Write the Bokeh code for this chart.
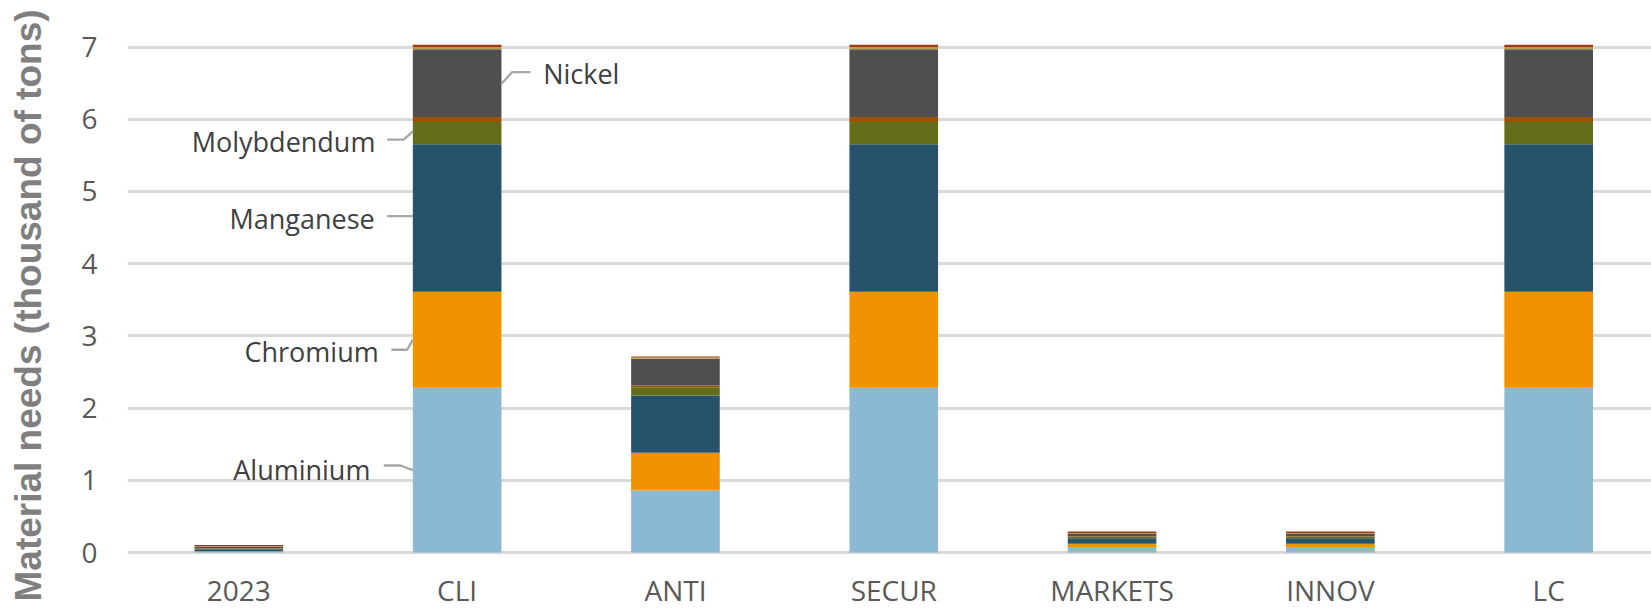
from bokeh.plotting import figure
from bokeh.models import Range1d, FixedTicker, Label, LabelSet, ColumnDataSource
from bokeh.core.properties import value
from bokeh.embed import file_html
from bokeh.resources import INLINE

# ---------------- data ----------------
categories = ["2023", "CLI", "ANTI", "SECUR", "MARKETS", "INNOV", "LC"]
aluminium  = [0.012, 2.28, 0.86, 2.28, 0.075, 0.075, 2.28]
chromium   = [0.004, 1.33, 0.52, 1.33, 0.045, 0.045, 1.33]
manganese  = [0.030, 2.045, 0.795, 2.045, 0.078, 0.078, 2.045]
molybdenum = [0.006, 0.305, 0.115, 0.305, 0.020, 0.020, 0.305]
other_a    = [0.004, 0.07, 0.023, 0.07, 0.008, 0.008, 0.07]
nickel     = [0.025, 0.94, 0.37, 0.94, 0.030, 0.030, 0.94]
other_b    = [0.004, 0.03, 0.016, 0.03, 0.010, 0.010, 0.03]
other_c    = [0.020, 0.03, 0.016, 0.03, 0.024, 0.024, 0.03]
y_ticks = [0, 1, 2, 3, 4, 5, 6, 7]
y_title = "Material needs (thousand of tons)"

series = ["Aluminium", "Chromium", "Manganese", "Molybdendum", "Other A",
          "Nickel", "Other B", "Other C"]
values = [aluminium, chromium, manganese, molybdenum, other_a, nickel, other_b, other_c]
colors = ["#8BB8D3", "#F39200", "#26536A", "#646E1A", "#9C5200",
          "#4F4F4F", "#BC9A45", "#9E3A16"]

# ---------------- layout ----------------
W, H = 1651, 610
MB_L, MB_R, MB_T, MB_B = 127, 0, 0, 0
X0, X1 = -0.510, 6.471
Y0, Y1 = -0.803, 7.644
BAR_W = 0.406
PXX = (W - MB_L - MB_R) / (X1 - X0)
PXY = (H - MB_T - MB_B) / (Y1 - Y0)

xs = list(range(len(categories)))
data = {"x": xs, "label": categories}
for name, vals in zip(series, values):
    data[name] = vals
src = ColumnDataSource(data)

p = figure(width=W, height=H, output_backend="svg", toolbar_location=None,
           x_range=Range1d(X0, X1), y_range=Range1d(Y0, Y1),
           min_border_left=MB_L, min_border_right=MB_R,
           min_border_top=MB_T, min_border_bottom=MB_B)
p.outline_line_color = None
p.background_fill_color = "white"
p.border_fill_color = "white"

p.vbar_stack(series, x="x", width=BAR_W, fill_color=colors, line_color=None, source=src)

# grid
p.xgrid.grid_line_color = None
p.ygrid.grid_line_color = "#D9D9D9"
p.ygrid.grid_line_width = 3
p.yaxis.ticker = FixedTicker(ticks=y_ticks)
p.xaxis.visible = False

p.yaxis.axis_line_color = None
p.yaxis.major_tick_line_color = None
p.yaxis.minor_tick_line_color = None
p.yaxis.major_tick_out = 0
p.yaxis.major_tick_in = 0
p.yaxis.major_label_text_font = "Open Sans"
p.yaxis.major_label_text_font_size = "28px"
p.yaxis.major_label_text_color = "#595959"
p.yaxis.major_label_standoff = 30
p.yaxis.axis_label = y_title
p.yaxis.axis_label_text_font = "Liberation Sans"
p.yaxis.axis_label_text_font_style = "bold"
p.yaxis.axis_label_text_font_size = "37px"
p.yaxis.axis_label_text_color = "#7F7F7F"
p.yaxis.axis_label_standoff = 29

# category labels under the bars (inside the frame, below zero)
p.add_layout(LabelSet(x="x", y=0, text="label", source=src, y_offset=-48,
                      text_font=value("Open Sans"), text_font_size=value("28px"),
                      text_color=value("#595959"), text_align="center",
                      text_baseline="alphabetic"))

# ---------------- data labels on the CLI bar ----------------
bar = 1
left_edge = xs[bar] - BAR_W / 2
right_edge = xs[bar] + BAR_W / 2
cum = 0.0
mids = {}
for name, vals in zip(series, values):
    mids[name] = cum + vals[bar] / 2
    cum += vals[bar]

# (series, side, leader points in px relative to anchor [(dx, dy_up)...], text offset px (dx, dy_up))
label_style = [
    ("Aluminium",   "left",  [(0, 0), (-12.4, 4.7), (-29.1, 4.7)],           (-42.4, 0.5)),
    ("Chromium",    "left",  [(0, 0), (-5.7, -9.9), (-21.4, -9.9)],          (-34.1, -11.5)),
    ("Manganese",   "left",  [(0, 1.8), (-25.7, 1.8)],                       (-38.1, -0.5)),
    ("Molybdendum", "left",  [(0, 1.7), (-9.1, -6.6), (-25.7, -6.6)],        (-37.4, -8.2)),
    ("Nickel",      "right", [(0, -0.6), (10.7, 11.0), (29.0, 11.0)],        (41.7, 9.3)),
]

lx, ly = [], []
for name, side, pts, (tdx, tdy) in label_style:
    ax_x = left_edge if side == "left" else right_edge
    ay = mids[name]
    lx.append([ax_x + dx / PXX for dx, dy in pts])
    ly.append([ay + dy / PXY for dx, dy in pts])
    p.add_layout(Label(x=ax_x, y=ay, x_offset=tdx, y_offset=tdy, text=name,
                       text_font="Open Sans", text_font_size="27px",
                       text_color="#404040",
                       text_align="right" if side == "left" else "left",
                       text_baseline="alphabetic"))
p.multi_line(lx, ly, line_color="#A6A6A6", line_width=2.3)

open("out.html", "w").write(file_html(p, INLINE))
